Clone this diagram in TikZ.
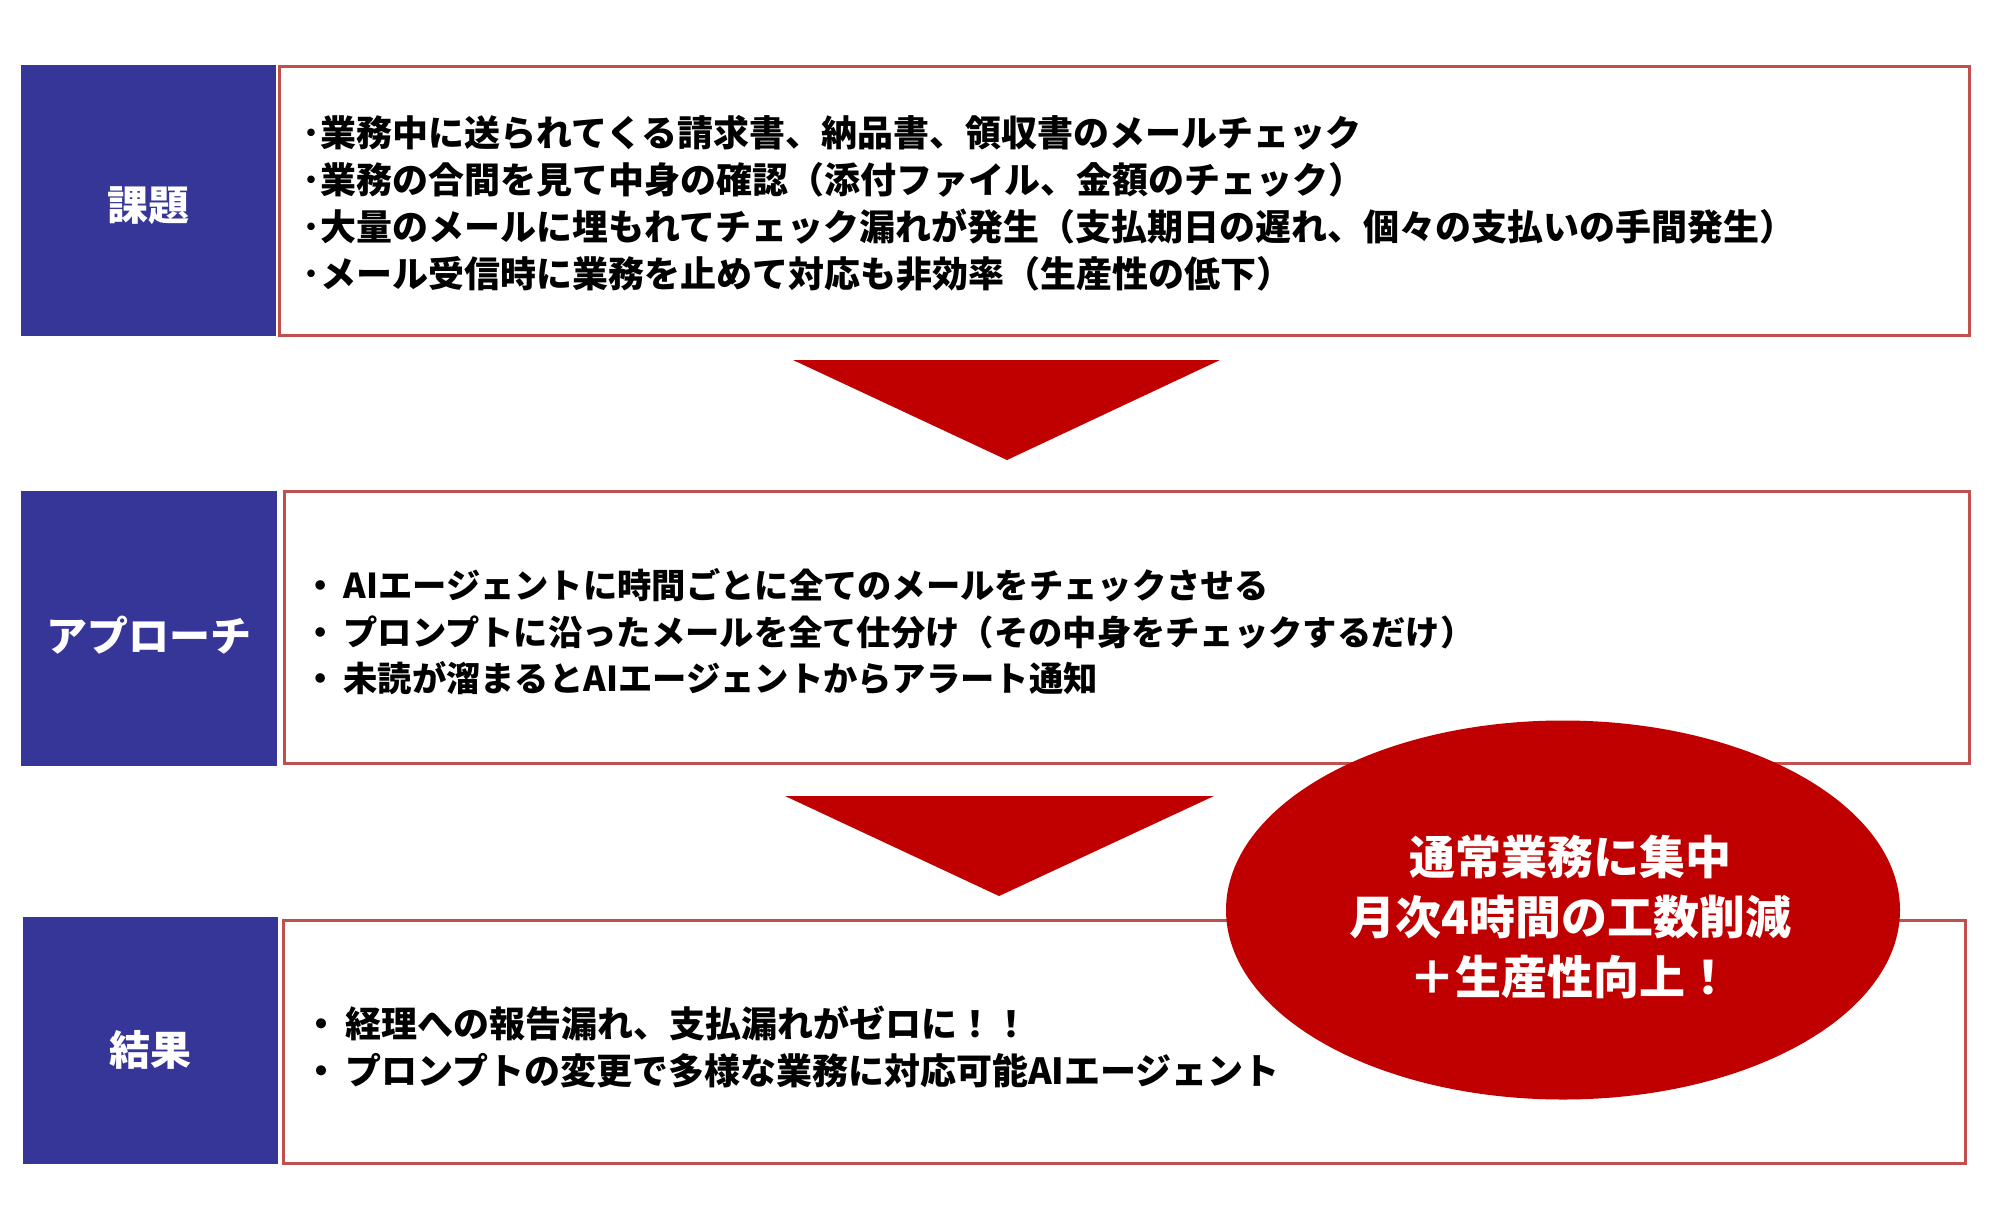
\documentclass[tikz,border=0pt]{standalone}
\usepackage{fontspec}
\setmainfont{Noto Sans CJK JP}
\usetikzlibrary{shapes.geometric}
\definecolor{labelblue}{RGB}{54,54,153}
\definecolor{frameRed}{RGB}{192,80,77}
\definecolor{accentRed}{RGB}{192,0,0}
\tikzset{
  labelbox/.style={fill=labelblue, draw=none, inner sep=0pt},
  labeltext/.style={text=white, inner sep=0pt,
    font=\fontsize{41}{41}\selectfont\bfseries},
  framebox/.style={draw=frameRed, line width=3pt, fill=white, inner sep=0pt},
  bodytext/.style={anchor=west, inner sep=0pt, align=left, text=black},
  downarrow/.style={fill=accentRed, draw=none},
  resultoval/.style={ellipse, fill=accentRed, draw=none, inner sep=0pt},
  ovaltext/.style={text=white, align=center, inner sep=0pt,
    font=\fontsize{46}{60}\selectfont\bfseries}
}
\begin{document}
\begin{tikzpicture}[x=1pt,y=-1pt]
\useasboundingbox (0,0) rectangle (1999,1226);
% row 1
\node[labelbox, minimum width=255, minimum height=271] (l1) at (148.5,200.5) {};
\node[labeltext] (l1t) at (148.5,206) {課題};
\node[framebox, minimum width=1690, minimum height=269] (c1) at (1124,200.5) {};
\node[bodytext, font=\fontsize{36}{47}\selectfont\bfseries] (t1) at (302,203) {･業務中に送られてくる請求書、納品書、領収書のメールチェック\\
･業務の合間を見て中身の確認（添付ファイル、金額のチェック）\\
･大量のメールに埋もれてチェック漏れが発生（支払期日の遅れ、個々の支払いの手間発生）\\
･メール受信時に業務を止めて対応も非効率（生産性の低下）};
% arrow 1
\coordinate (a1l) at (793,360);
\coordinate (a1r) at (1220,360);
\coordinate (a1t) at (1007,460);
\fill[downarrow] (a1l) -- (a1r) -- (a1t) -- cycle;
% row 2
\node[labelbox, minimum width=256, minimum height=275] (l2) at (149,628.5) {};
\node[labeltext] (l2t) at (149,635) {アプローチ};
\node[framebox, minimum width=1685, minimum height=272] (c2) at (1126.5,627) {};
\node[bodytext, font=\fontsize{34.3}{46.5}\selectfont\bfseries] (t2) at (303,632) {・\hspace{6pt}AIエージェントに時間ごとに全てのメールをチェックさせる\\
・\hspace{6pt}プロンプトに沿ったメールを全て仕分け（その中身をチェックするだけ）\\
・\hspace{6pt}未読が溜まるとAIエージェントからアラート通知};
% arrow 2
\coordinate (a2l) at (785,796);
\coordinate (a2r) at (1214,796);
\coordinate (a2t) at (999,896);
\fill[downarrow] (a2l) -- (a2r) -- (a2t) -- cycle;
% row 3
\node[labelbox, minimum width=255, minimum height=247] (l3) at (150.5,1040.5) {};
\node[labeltext] (l3t) at (150.5,1050) {結果};
\node[framebox, minimum width=1682, minimum height=243] (c3) at (1124,1041.5) {};
\node[bodytext, font=\fontsize{36}{47}\selectfont\bfseries] (t3) at (303,1047) {・\hspace{6pt}経理への報告漏れ、支払漏れがゼロに！！\\
・\hspace{6pt}プロンプトの変更で多様な業務に対応可能AIエージェント};
% result oval
\node[resultoval, minimum width=674, minimum height=379] (ov) at (1563,910) {};
\node[ovaltext] (ovt) at (1570,917) {通常業務に集中\\月次4時間の工数削減\\＋生産性向上！};
\end{tikzpicture}
\end{document}
